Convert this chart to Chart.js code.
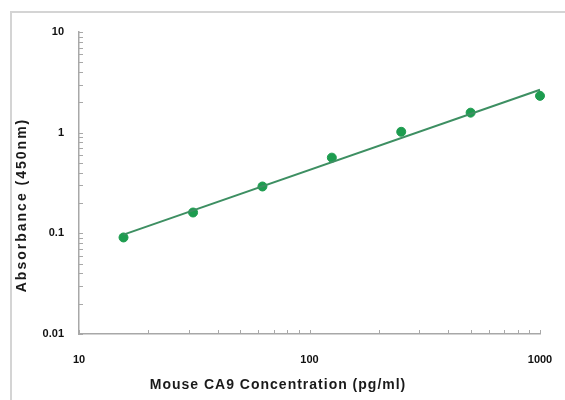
<!DOCTYPE html>
<html>
<head>
<meta charset="utf-8">
<script src="https://cdn.jsdelivr.net/npm/chart.js@4"></script>
<style>
    body { margin: 0; background: #fff; width: 565px; height: 400px; overflow: hidden; position: relative; }
    #frame { position: absolute; left: 10px; top: 11px; width: 600px; height: 450px; border: 2px solid #d4d4d4; }
    #wrap { position: absolute; left: 0; top: 0; width: 565px; height: 400px; }
</style>
</head>
<body>
<div id="frame"></div>
<div id="wrap"><canvas id="curveChart"></canvas></div>
<script>
// standard curve readings
const concentrations = [15.6, 31.25, 62.5, 125, 250, 500, 1000];
const absorbance = [0.091, 0.161, 0.292, 0.565, 1.02, 1.58, 2.32];

// fitted line end points
const fitX = [15.6, 1000];
const fitY = [0.097, 2.67];

// axis decades and tick labels
const xDecades = [10, 100];
const xEnd = 1000;
const xLabels = ['10', '100', '1000'];
const yDecades = [0.01, 0.1, 1];
const yEnd = 10;
const yLabels = ['0.01', '0.1', '1', '10'];
const mantissas = [1, 2, 3, 4, 5, 6, 7, 8, 9];

function buildTicks(decades, end, labels) {
    const ticks = [];
    decades.forEach((d, i) => {
        mantissas.forEach(m => {
            ticks.push({ value: +(d * m).toPrecision(6), text: m === 1 ? labels[i] : '' });
        });
    });
    ticks.push({ value: end, text: labels[labels.length - 1] });
    return ticks;
}

const tickFont = { family: '"Liberation Sans", Arial, sans-serif', size: 11, weight: 'bold' };

// inward tick marks and axis titles
const axisExtras = {
    id: 'axisExtras',
    afterDraw(chart) {
        const ctx = chart.ctx;
        const area = chart.chartArea;
        const xs = chart.scales.x;
        const ys = chart.scales.y;
        ctx.save();
        ctx.strokeStyle = '#a8a8a8';
        ctx.lineWidth = 1;
        ys.ticks.forEach(t => {
            const p = Math.round(ys.getPixelForValue(t.value)) + 0.5;
            ctx.beginPath();
            ctx.moveTo(area.left, p);
            ctx.lineTo(area.left + 4, p);
            ctx.stroke();
        });
        xs.ticks.forEach(t => {
            const p = Math.round(xs.getPixelForValue(t.value)) + 0.5;
            ctx.beginPath();
            ctx.moveTo(p, area.bottom);
            ctx.lineTo(p, area.bottom - 4);
            ctx.stroke();
        });

        ctx.fillStyle = '#1a1a1a';
        ctx.font = 'bold 14px "Liberation Sans", Arial, sans-serif';
        ctx.textAlign = 'center';
        ctx.textBaseline = 'middle';
        ctx.letterSpacing = '1px';
        ctx.fillText('Mouse CA9 Concentration (pg/ml)', 278, 385);
        ctx.translate(22, 205);
        ctx.rotate(-Math.PI / 2);
        ctx.letterSpacing = '2px';
        ctx.fillText('Absorbance (450nm)', 0, 0);
        ctx.restore();
    }
};

function renderCurveChart() {
    const ctx = document.getElementById('curveChart');
    if (!ctx) {
        console.error('Element with id "curveChart" not found.');
        return;
    }
    new Chart(ctx.getContext('2d'), {
        type: 'scatter',
        data: {
            datasets: [{
                label: 'Fit',
                data: fitX.map((x, i) => ({ x: x, y: fitY[i] })),
                showLine: true,
                borderColor: '#3d8f62',
                borderWidth: 2,
                pointRadius: 0,
                clip: false
            }, {
                label: 'Standards',
                data: concentrations.map((x, i) => ({ x: x, y: absorbance[i] })),
                backgroundColor: '#1d9c4f',
                borderColor: '#1d9c4f',
                pointRadius: 4.5,
                pointHoverRadius: 4.5,
                clip: false
            }]
        },
        options: {
            responsive: true,
            maintainAspectRatio: false,
            animation: false,
            layout: { padding: { left: 0, top: 32, right: 25, bottom: 0 } },
            plugins: {
                legend: { display: false },
                title: { display: false },
                tooltip: { enabled: false }
            },
            scales: {
                x: {
                    type: 'logarithmic',
                    min: 10,
                    max: 1000,
                    afterBuildTicks: scale => { scale.ticks = buildTicks(xDecades, xEnd, xLabels); },
                    afterFit: scale => {
                        scale.height = 66;
                        scale.paddingLeft = 0;
                        scale.paddingRight = 0;
                    },
                    grid: { display: false, drawTicks: false },
                    border: { display: true, color: '#a8a8a8', width: 1.5 },
                    ticks: {
                        autoSkip: false,
                        maxRotation: 0,
                        padding: 19,
                        color: '#111',
                        font: tickFont,
                        callback: (v, i, ticks) => ticks[i].text
                    }
                },
                y: {
                    type: 'logarithmic',
                    min: 0.01,
                    max: 10,
                    afterBuildTicks: scale => { scale.ticks = buildTicks(yDecades, yEnd, yLabels); },
                    afterFit: scale => {
                        scale.width = 79;
                        scale.paddingTop = 0;
                        scale.paddingBottom = 0;
                    },
                    grid: { display: false, drawTicks: false },
                    border: { display: true, color: '#a8a8a8', width: 1.5 },
                    ticks: {
                        autoSkip: false,
                        padding: 15,
                        color: '#111',
                        font: tickFont,
                        callback: (v, i, ticks) => ticks[i].text
                    }
                }
            }
        },
        plugins: [axisExtras]
    });
}

renderCurveChart();
</script>
</body>
</html>
